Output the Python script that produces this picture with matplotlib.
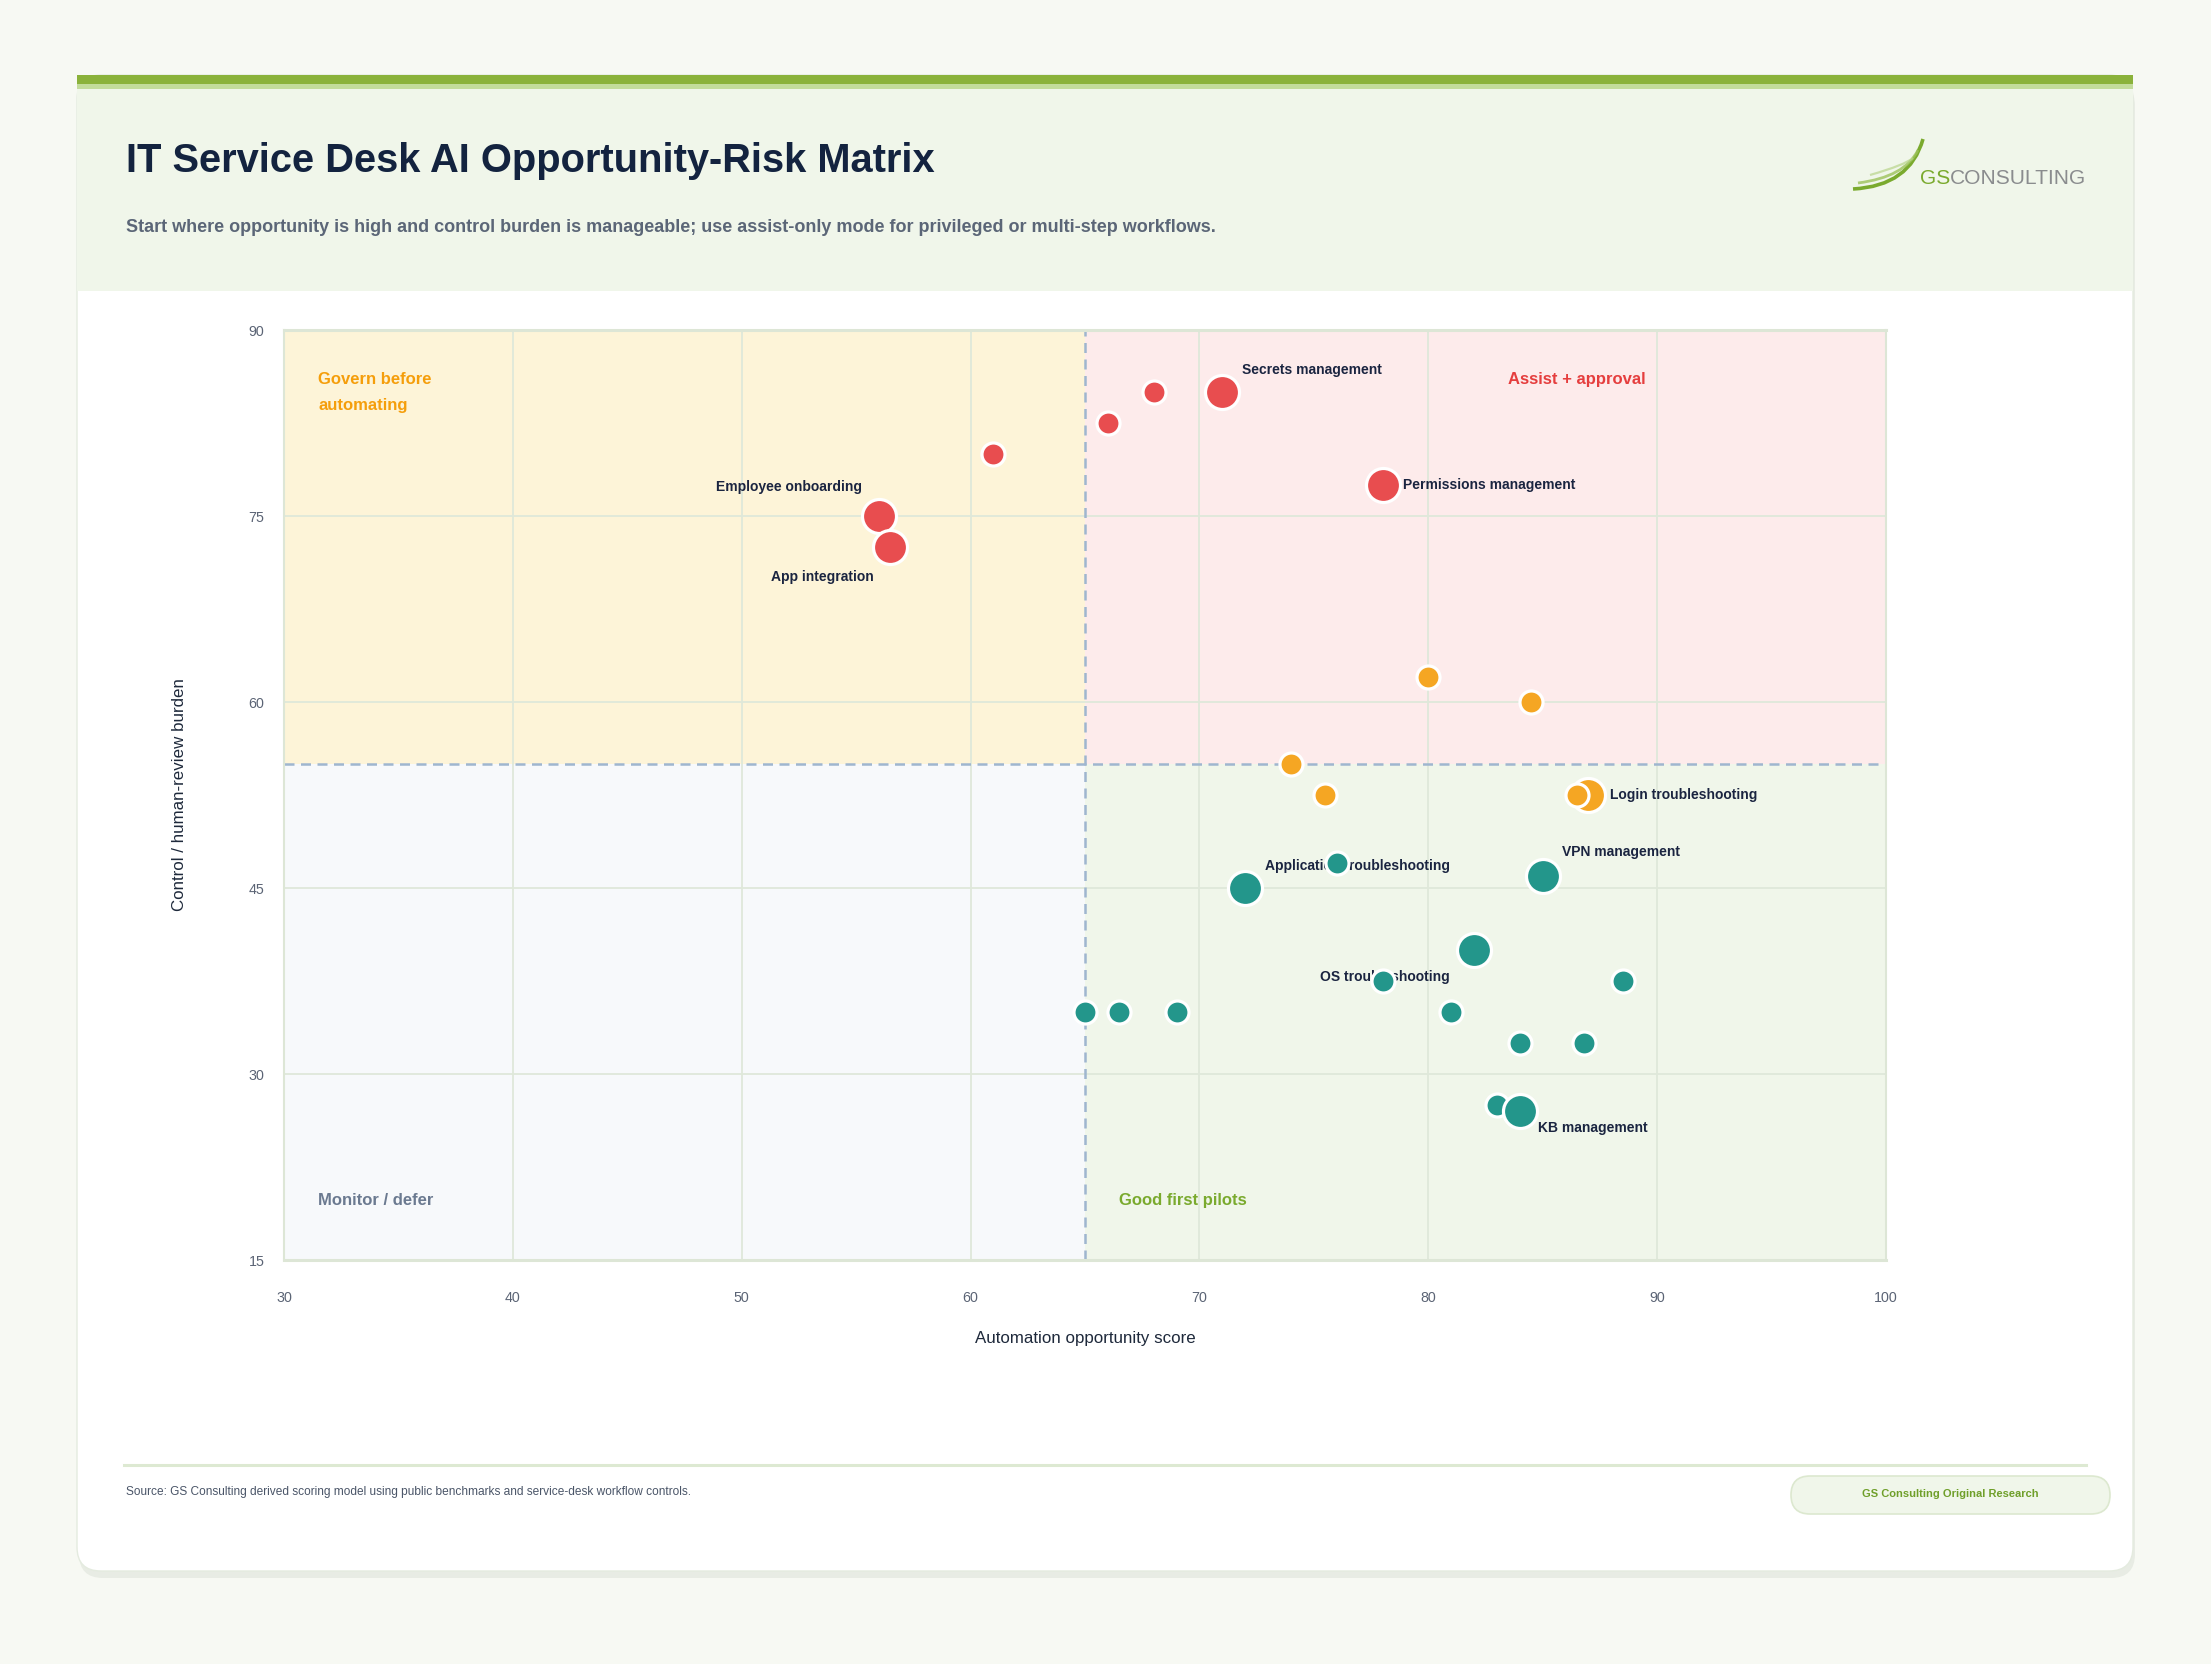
import matplotlib
matplotlib.use('Agg')
import matplotlib.pyplot as plt
from matplotlib.patches import FancyBboxPatch, Rectangle, PathPatch
from matplotlib.path import Path

plt.rcParams['font.family'] = ['Liberation Sans', 'DejaVu Sans']

W, H, DPI = 2211, 1664, 100

# ---------------- data ----------------
workflow_x = [61, 56, 56.5, 66, 68, 71, 78,
              80, 84.5, 74, 75.5, 87, 86.5,
              76, 72, 85, 82, 78, 88.5, 65, 66.5, 69, 81, 84, 86.8, 83, 84]
workflow_y = [80, 75, 72.5, 82.5, 85, 85, 77.5,
              62, 60, 55, 52.5, 52.5, 52.5,
              47, 45, 46, 40, 37.5, 37.5, 35, 35, 35, 35, 32.5, 32.5, 27.5, 27]
workflow_tier = ['red', 'red', 'red', 'red', 'red', 'red', 'red',
                 'orange', 'orange', 'orange', 'orange', 'orange', 'orange',
                 'teal', 'teal', 'teal', 'teal', 'teal', 'teal', 'teal', 'teal',
                 'teal', 'teal', 'teal', 'teal', 'teal', 'teal']
workflow_big = [0, 1, 1, 0, 0, 1, 1,
                0, 0, 0, 0, 1, 0,
                0, 1, 1, 1, 0, 0, 0, 0, 0, 0, 0, 0, 0, 1]
workflow_label = ['', 'Employee onboarding', 'App integration', '', '', 'Secrets management',
                  'Permissions management',
                  '', '', '', '', 'Login troubleshooting', '',
                  '', 'Application troubleshooting', 'VPN management', 'OS troubleshooting',
                  '', '', '', '', '', '', '', '', '', 'KB management']

x_ticks = [30, 40, 50, 60, 70, 80, 90, 100]
y_ticks = [15, 30, 45, 60, 75, 90]
x_split, y_split = 65, 55

tier_colors = {'red': '#e84d4f', 'orange': '#f5a623', 'teal': '#23968b'}

# label placement (pixel offsets, alignment)
label_style = {
    'Employee onboarding': (-17, 29, 'right'),
    'App integration': (-17, -30, 'right'),
    'Secrets management': (20, 22, 'left'),
    'Permissions management': (20, 0, 'left'),
    'Login troubleshooting': (22, 0, 'left'),
    'Application troubleshooting': (20, 22, 'left'),
    'VPN management': (19, 24, 'left'),
    'OS troubleshooting': (-24, -27, 'right'),
    'KB management': (18, -17, 'left'),
}

# ---------------- figure ----------------
fig = plt.figure(figsize=(W / DPI, H / DPI), dpi=DPI)
fig.patch.set_facecolor('#f7f9f3')
bg = fig.add_axes([0, 0, 1, 1], zorder=0)
bg.set_xlim(0, W)
bg.set_ylim(H, 0)
bg.axis('off')

# card shadow + card
bg.add_patch(FancyBboxPatch((79, 82), 2056, 1496, boxstyle='round,pad=0,rounding_size=24',
                            fc='#e2e7de', ec='none', alpha=0.7))
bg.add_patch(FancyBboxPatch((77, 75), 2056, 1496, boxstyle='round,pad=0,rounding_size=24',
                            fc='white', ec='#e4ebdf', lw=1))
# header
bg.add_patch(Rectangle((77, 89), 2056, 202, fc='#f0f6ea', ec='none'))
bg.add_patch(Rectangle((77, 75), 2056, 9, fc='#8ab23a', ec='none'))
bg.add_patch(Rectangle((77, 84), 2056, 5, fc='#c2dc9a', ec='none'))

bg.text(126, 161, 'IT Service Desk AI Opportunity-Risk Matrix', fontsize=28.75, fontweight='bold',
        color='#13233f', va='center', ha='left')
bg.text(126, 227, 'Start where opportunity is high and control burden is manageable; use assist-only mode '
        'for privileged or multi-step workflows.', fontsize=13, fontweight='bold',
        color='#5b6677', va='center', ha='left')

# logo swoosh
for (p0, c1, p2, col, a, lw) in [
        ((1853, 189), (1910, 186), (1923, 139), '#7aaa2e', 1.0, 2.6),
        ((1858, 183), (1905, 177), (1918, 150), '#9cc25a', 0.8, 2.0),
        ((1870, 175), (1905, 165), (1913, 158), '#b8d48a', 0.7, 1.6)]:
    path = Path([p0, c1, p2], [Path.MOVETO, Path.CURVE3, Path.CURVE3])
    bg.add_patch(PathPatch(path, fc='none', ec=col, lw=lw, alpha=a))
t1 = bg.text(1920, 178, 'GS', fontsize=15.1, color='#7aaa2e', va='center', ha='left')
fig.canvas.draw()
bb = t1.get_window_extent()
bg.text(1920 + bb.width, 178, 'CONSULTING', fontsize=15.1, color='#8a8c8e', va='center', ha='left')

# footer
bg.plot([124, 2086], [1465, 1465], color='#dde9d2', lw=2.2)
bg.text(126, 1492, 'Source: GS Consulting derived scoring model using public benchmarks and '
        'service-desk workflow controls.', fontsize=8.6, color='#4a5568', va='center', ha='left')
bg.add_patch(FancyBboxPatch((1791, 1476), 319, 38, boxstyle='round,pad=0,rounding_size=19',
                            fc='#f0f6ea', ec='#dce8cf', lw=1.2))
bg.text(1950, 1494, 'GS Consulting Original Research', fontsize=8, fontweight='bold',
        color='#6f9f2a', va='center', ha='center')

# ---------------- main axes ----------------
L, R, T, B = 284, 1886, 330, 1260
ax = fig.add_axes([L / W, 1 - B / H, (R - L) / W, (B - T) / H], zorder=1)
ax.set_xlim(x_ticks[0], x_ticks[-1])
ax.set_ylim(y_ticks[0], y_ticks[-1])
ax.patch.set_alpha(0)

x0, x1 = x_ticks[0], x_ticks[-1]
y0, y1 = y_ticks[0], y_ticks[-1]
ax.add_patch(Rectangle((x0, y_split), x_split - x0, y1 - y_split, fc='#fdf4d8', ec='none', zorder=0))
ax.add_patch(Rectangle((x_split, y_split), x1 - x_split, y1 - y_split, fc='#fdebeb', ec='none', zorder=0))
ax.add_patch(Rectangle((x0, y0), x_split - x0, y_split - y0, fc='#f7f9fb', ec='none', zorder=0))
ax.add_patch(Rectangle((x_split, y0), x1 - x_split, y_split - y0, fc='#f0f6ea', ec='none', zorder=0))

ax.set_xticks(x_ticks)
ax.set_yticks(y_ticks)
ax.grid(True, color='#dfe8da', lw=1.3, zorder=1)
ax.set_axisbelow(True)
ax.tick_params(length=0, labelsize=10.3, labelcolor='#5b6475')
ax.tick_params(axis='y', pad=14)
ax.tick_params(axis='x', pad=22)
for s in ax.spines.values():
    s.set_color('#dde6d6')
    s.set_linewidth(1.5)
ax.spines['bottom'].set_linewidth(2.2)
ax.spines['top'].set_linewidth(2.2)

ax.axvline(x_split, color='#9fb6cf', lw=1.8, ls=(0, (4, 2.6)), zorder=2)
ax.axhline(y_split, color='#9fb6cf', lw=1.8, ls=(0, (4, 2.6)), zorder=2)

# quadrant labels
qfs = 12
ax.text(31.5, 86.0, 'Govern before', fontsize=qfs, fontweight='bold', color='#f59e0b',
        va='center', ha='left', zorder=2)
ax.text(31.5, 83.9, 'automating', fontsize=qfs, fontweight='bold', color='#f59e0b',
        va='center', ha='left', zorder=2)
ax.text(83.5, 86.0, 'Assist + approval', fontsize=qfs, fontweight='bold', color='#e53e3e',
        va='center', ha='left', zorder=2)
ax.text(31.5, 19.8, 'Monitor / defer', fontsize=qfs, fontweight='bold', color='#6b7a90',
        va='center', ha='left', zorder=2)
ax.text(66.5, 19.8, 'Good first pilots', fontsize=qfs, fontweight='bold', color='#7aaa2e',
        va='center', ha='left', zorder=2)

# points
for xv, yv, tier, big in zip(workflow_x, workflow_y, workflow_tier, workflow_big):
    ax.scatter([xv], [yv], s=600 if big else 275, color=tier_colors[tier], edgecolor='white',
               linewidth=2.3, zorder=4)

for xv, yv, lab in zip(workflow_x, workflow_y, workflow_label):
    if lab:
        dx, dy, ha = label_style[lab]
        ax.annotate(lab, (xv, yv), xytext=(dx, dy), textcoords='offset pixels', ha=ha, va='center',
                    fontsize=10, fontweight='bold', color='#1a2440', zorder=3)

# axis titles
bg.text((L + R) / 2, 1338, 'Automation opportunity score', fontsize=12.2, color='#1e293b',
        ha='center', va='center')
bg.text(179, (T + B) / 2, 'Control / human-review burden', fontsize=12.2, color='#1e293b',
        ha='center', va='center', rotation=90)

fig.savefig('out.png', dpi=DPI, facecolor=fig.get_facecolor())
